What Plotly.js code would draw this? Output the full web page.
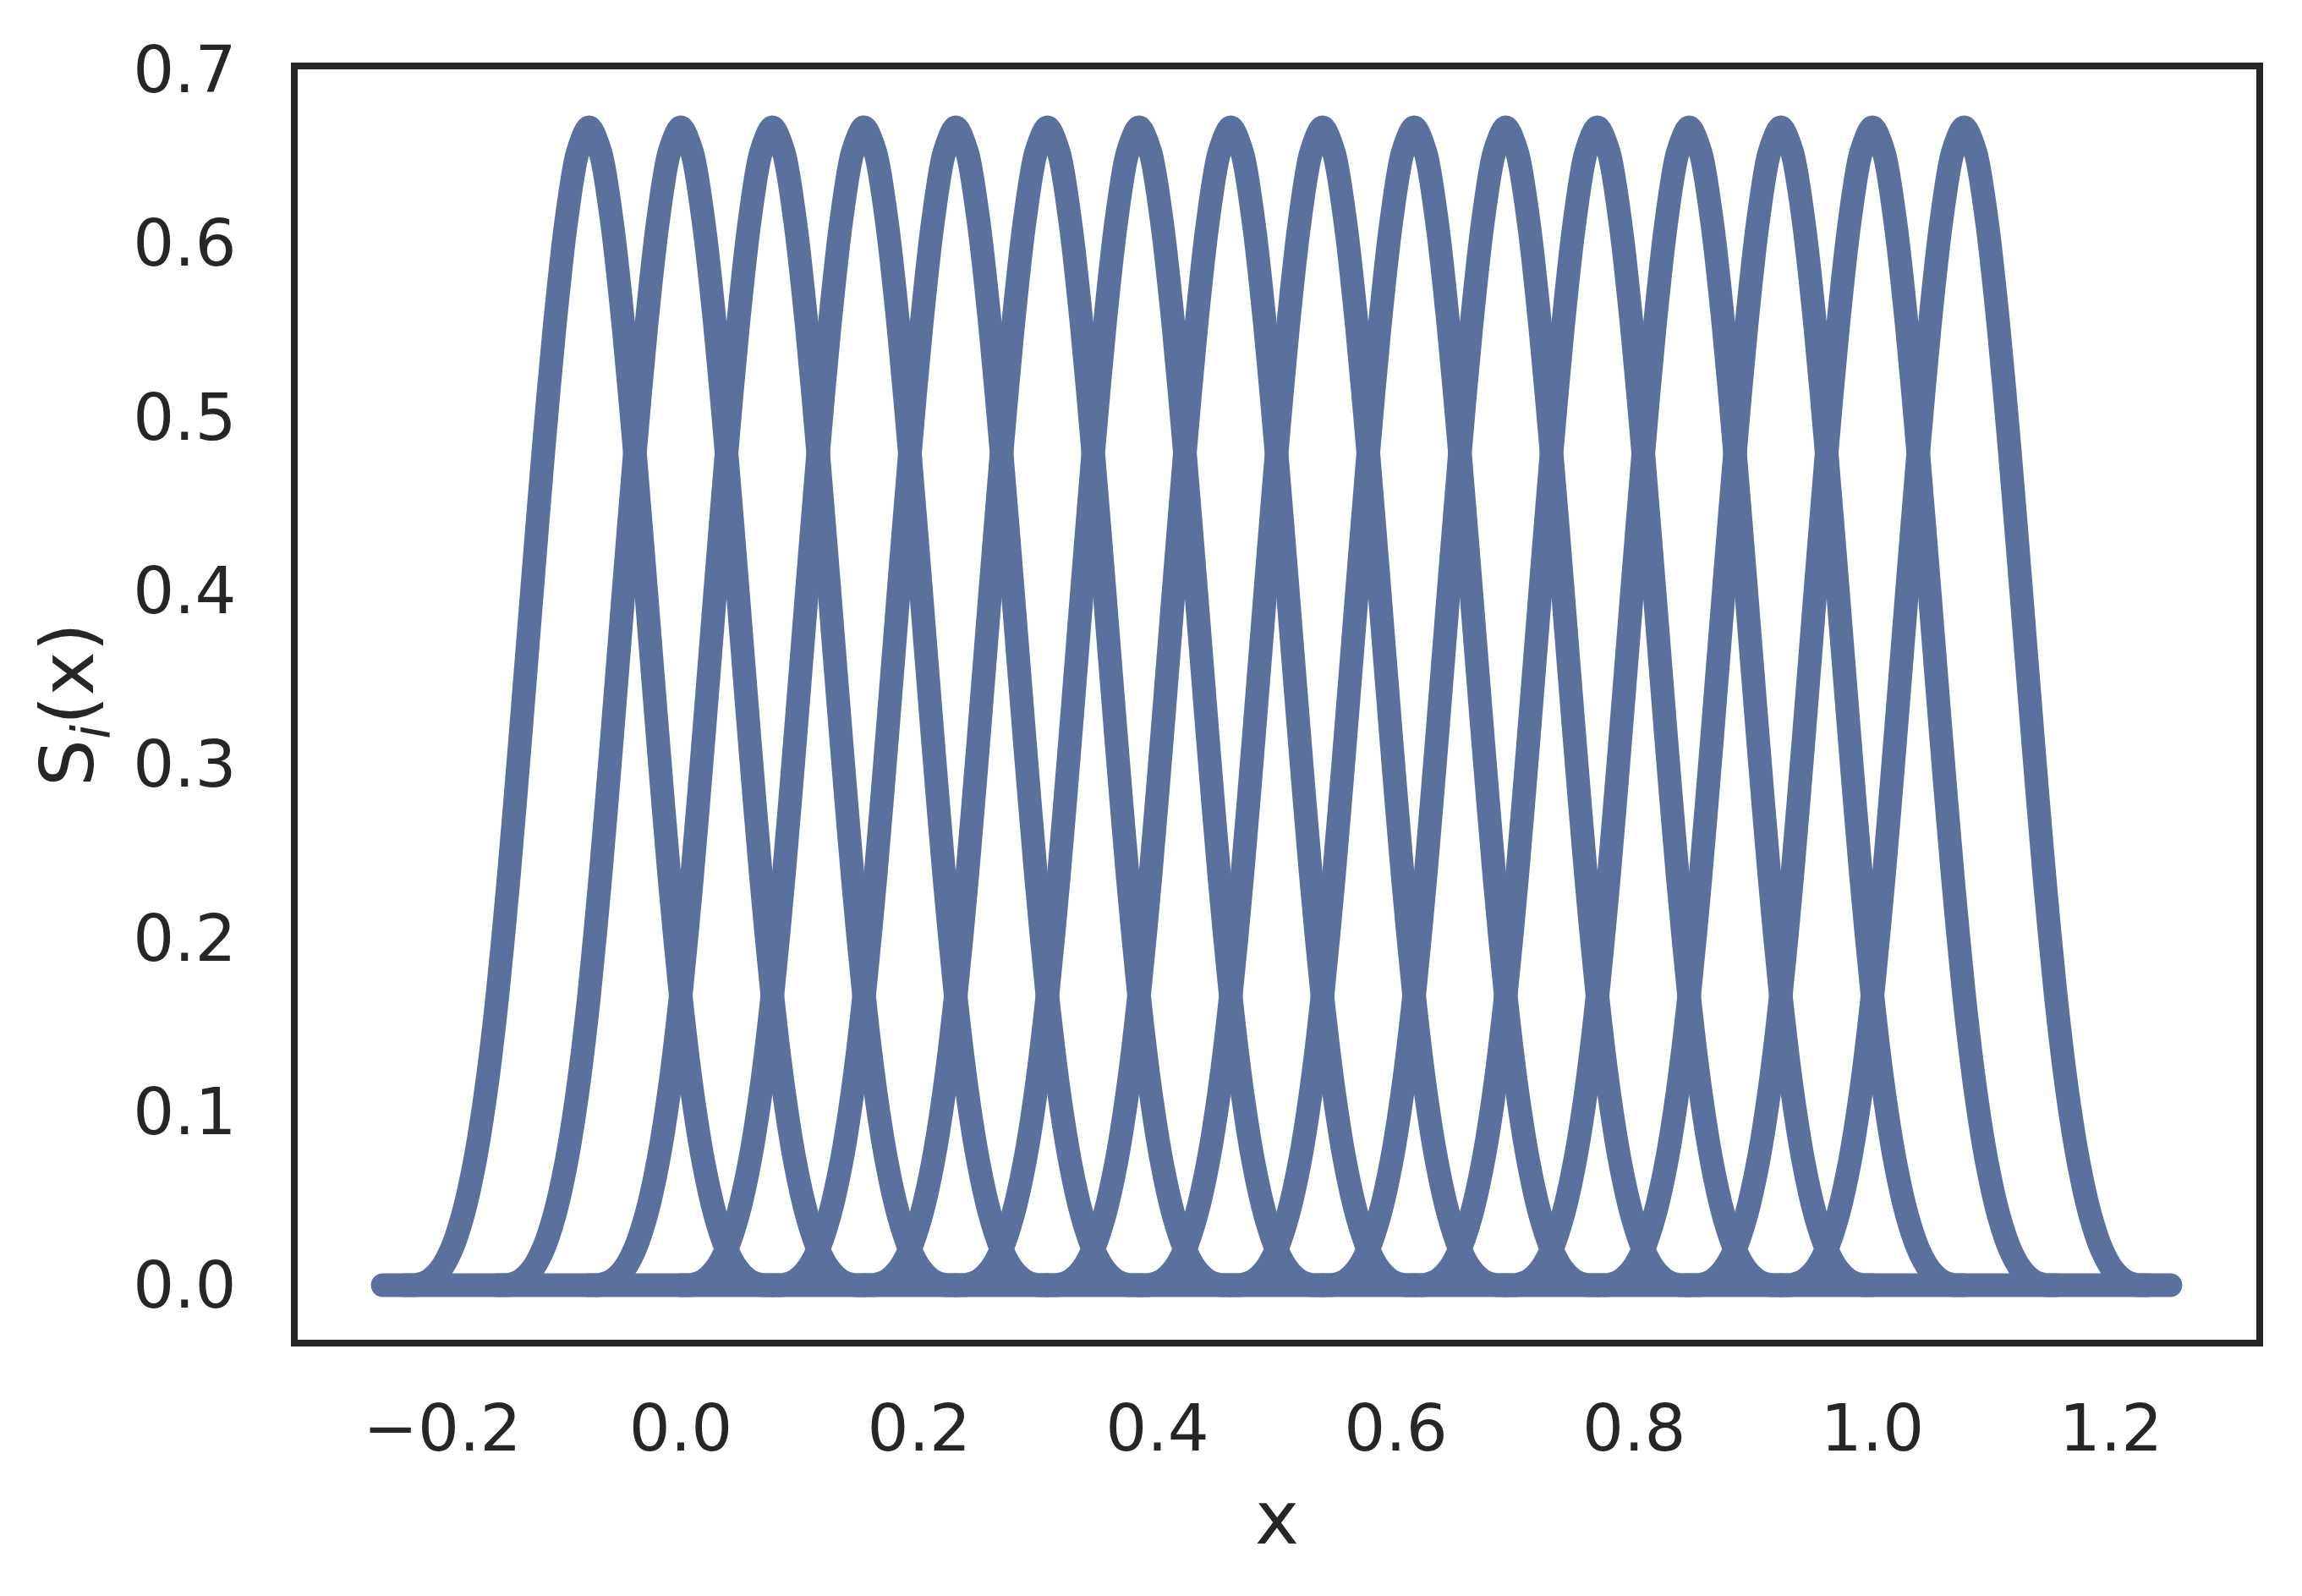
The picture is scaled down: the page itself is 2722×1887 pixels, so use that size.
<!DOCTYPE html>
<html>
<head>
<meta charset="utf-8">
<script src="https://cdn.plot.ly/plotly-3.0.1.min.js"></script>
<style>
  html, body { margin: 0; padding: 0; background: #ffffff; }
  #chart { width: 2722px; height: 1887px; }
</style>
</head>
<body>
<div id="chart"></div>
<script>
// Peak positions of the 16 basis functions S_i(x)
const centers = [-0.0769, 0.0, 0.0769, 0.1538, 0.2308, 0.3077, 0.3846, 0.4615,
                 0.5385, 0.6154, 0.6923, 0.7692, 0.8462, 0.9231, 1.0, 1.0769];
// Spacing between neighbouring peaks
const spacing = 0.0769;
// Shape of one bump: offsets (in units of spacing) and heights
const bumpOffsets = [-2, -1.875, -1.75, -1.625, -1.5, -1.375, -1.25, -1.125,
                     -1, -0.875, -0.75, -0.625, -0.5, -0.375, -0.25, -0.125,
                     0, 0.125, 0.25, 0.375, 0.5, 0.625, 0.75, 0.875,
                     1, 1.125, 1.25, 1.375, 1.5, 1.625, 1.75, 1.875, 2];
const bumpValues  = [0, 0.0003, 0.0026, 0.0088, 0.0208, 0.0407, 0.0703, 0.1117,
                     0.1667, 0.2360, 0.3151, 0.3981, 0.4792, 0.5524, 0.6120, 0.6520,
                     0.6667, 0.6520, 0.6120, 0.5524, 0.4792, 0.3981, 0.3151, 0.2360,
                     0.1667, 0.1117, 0.0703, 0.0407, 0.0208, 0.0088, 0.0026, 0.0003, 0];
// Extent of the evaluated x grid (all curves run flat at 0 across it)
const xDomain = [-0.25, 1.25];
const baseline = [0, 0];
// Tick labels
const xTicks = [-0.2, 0.0, 0.2, 0.4, 0.6, 0.8, 1.0, 1.2];
const xTickText = ['\u22120.2', '0.0', '0.2', '0.4', '0.6', '0.8', '1.0', '1.2'];
const yTicks = [0.0, 0.1, 0.2, 0.3, 0.4, 0.5, 0.6, 0.7];
const yTickText = ['0.0', '0.1', '0.2', '0.3', '0.4', '0.5', '0.6', '0.7'];

const lineColor = '#5a719e';
const ink = '#262626';
const fontFam = 'DejaVu Sans, sans-serif';

const traces = [{
  type: 'scatter', mode: 'lines', x: xDomain, y: baseline,
  line: { color: lineColor, width: 28 },
  hoverinfo: 'skip', showlegend: false
}];
centers.forEach(function (c) {
  traces.push({
    type: 'scatter', mode: 'lines',
    x: bumpOffsets.map(function (o) { return c + o * spacing; }),
    y: bumpValues,
    line: { color: lineColor, width: 28, shape: 'spline', smoothing: 0.8 },
    hoverinfo: 'skip', showlegend: false
  });
});

const layout = {
  width: 2722, height: 1887,
  paper_bgcolor: '#ffffff', plot_bgcolor: '#ffffff',
  margin: { l: 352, r: 54, t: 82, b: 303, pad: 0 },
  showlegend: false,
  font: { family: fontFam, color: ink, size: 77 },
  xaxis: {
    range: [-0.3214, 1.3221],
    tickmode: 'array', tickvals: xTicks, ticktext: xTickText,
    showgrid: false, zeroline: false,
    showline: true, mirror: true, linecolor: ink, linewidth: 8,
    ticks: '', ticklabelstandoff: 31,
    tickfont: { family: fontFam, size: 77, color: ink },
    title: { text: 'x', font: { family: fontFam, size: 88, color: ink }, standoff: 34 }
  },
  yaxis: {
    range: [-0.0314, 0.7],
    tickmode: 'array', tickvals: yTicks, ticktext: yTickText,
    showgrid: false, zeroline: false,
    showline: true, mirror: true, linecolor: ink, linewidth: 8,
    ticks: '', ticklabelstandoff: 49,
    tickfont: { family: fontFam, size: 77, color: ink },
    title: { text: 'S<sub><i>i</i></sub>(x)', font: { family: fontFam, size: 88, color: ink }, standoff: 20 }
  }
};

Plotly.newPlot('chart', traces, layout, { staticPlot: true, displayModeBar: false }).then(function () {
  document.querySelectorAll('.scatterlayer path.js-line').forEach(function (p) {
    p.style.strokeLinecap = 'round';
  });
});
</script>
</body>
</html>
